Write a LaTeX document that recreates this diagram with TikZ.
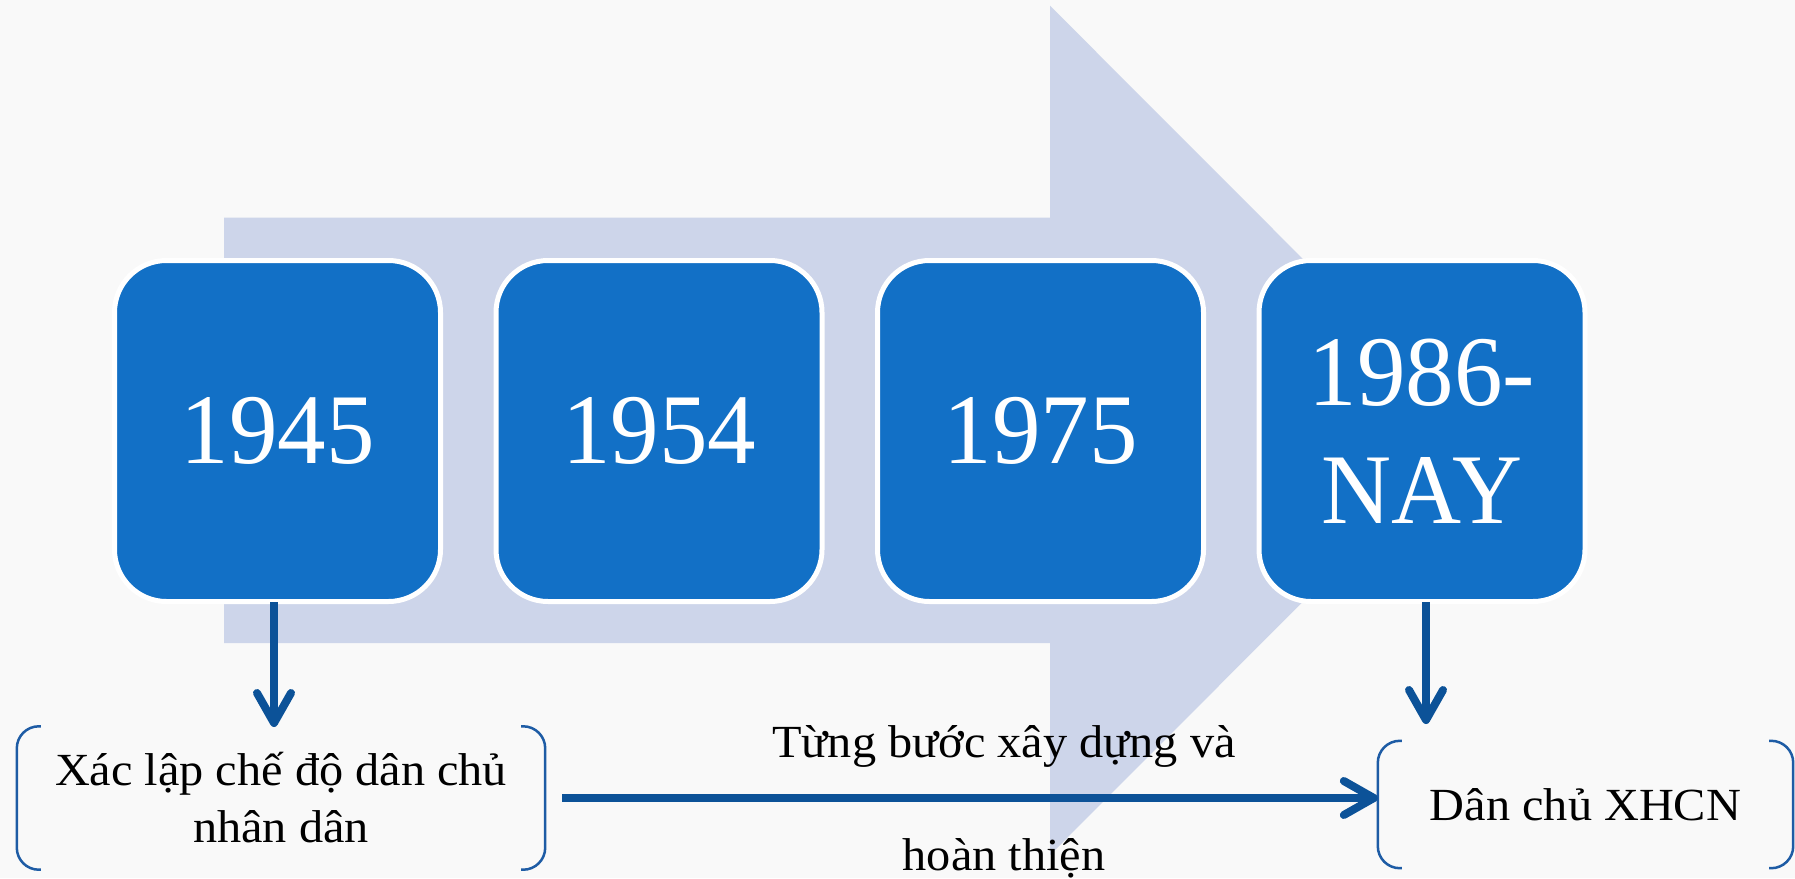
\documentclass[tikz,border=0pt]{standalone}
\usepackage{fontspec}
\setmainfont{Liberation Serif}
\newfontfamily\yearfont[FakeStretch=0.97]{Liberation Serif}
\newfontfamily\bodyfont[FakeStretch=1.05]{Liberation Serif}
\usetikzlibrary{arrows.meta}
\definecolor{boxblue}{RGB}{18,112,198}
\definecolor{arrowlight}{RGB}{205,213,234}
\definecolor{linkblue}{RGB}{12,82,152}
\definecolor{bracketblue}{RGB}{30,92,165}
\definecolor{bgcol}{RGB}{249,249,249}
\begin{document}
\begin{tikzpicture}[x=1pt,y=-1pt,
  yearbox/.style={fill=boxblue, draw=white, line width=5pt, rounded corners=52pt,
    minimum width=326pt, minimum height=341pt, inner sep=0pt, text=white,
    font=\yearfont\fontsize{100}{118}\selectfont, align=center},
  textbox/.style={inner sep=0pt, text=black, font=\bodyfont\fontsize{46}{57}\selectfont, align=center},
  bracketline/.style={draw=bracketblue, line width=2.5pt, rounded corners=22pt},
  link/.style={draw=linkblue, line width=8pt, -{Straight Barb[round,length=30pt,width=34pt]}}]
\useasboundingbox (0,0) rectangle (1795,878);
\fill[bgcol] (0,0) rectangle (1795,878);
% big background arrow
\fill[arrowlight] (224,217.5) -- (1050,217.5) -- (1050,5.7) -- (1474,430.3)
  -- (1050,855) -- (1050,643) -- (224,643) -- cycle;
% year boxes
\node[yearbox] (b1) at (277.5,431) {1945};
\node[yearbox] (b2) at (659,431) {1954};
\node[yearbox] (b3) at (1040.5,431) {1975};
\node[yearbox] (b4) at (1422,431) {1986-\\NAY};
% bottom boxes
\node[textbox, minimum width=528pt, minimum height=143pt] (lb) at (281,798)
  {Xác lập chế độ dân chủ\\nhân dân};
\node[textbox, minimum width=415pt, minimum height=127pt] (rb) at (1585.5,804.5)
  {Dân chủ XHCN};
\draw[bracketline] ([xshift=24pt]lb.north west) -- (lb.north west) -- (lb.south west) -- ([xshift=24pt]lb.south west);
\draw[bracketline] ([xshift=-24pt]lb.north east) -- (lb.north east) -- (lb.south east) -- ([xshift=-24pt]lb.south east);
\draw[bracketline] ([xshift=24pt]rb.north west) -- (rb.north west) -- (rb.south west) -- ([xshift=24pt]rb.south west);
\draw[bracketline] ([xshift=-24pt]rb.north east) -- (rb.north east) -- (rb.south east) -- ([xshift=-24pt]rb.south east);
% connectors
\coordinate (d1) at (274,727);
\coordinate (d4) at (1426,724);
\draw[link] ([yshift=2pt]b1.south -| d1) -- (d1);
\draw[link] ([yshift=2pt]b4.south -| d4) -- (d4);
\draw[link] ([xshift=17pt]lb.east) -- (lb.east -| rb.west)
  node[midway, textbox, font=\bodyfont\fontsize{46}{113}\selectfont, xshift=34pt, yshift=-4pt] (lbl) {Từng bước xây dựng và\\hoàn thiện};
\end{tikzpicture}
\end{document}
